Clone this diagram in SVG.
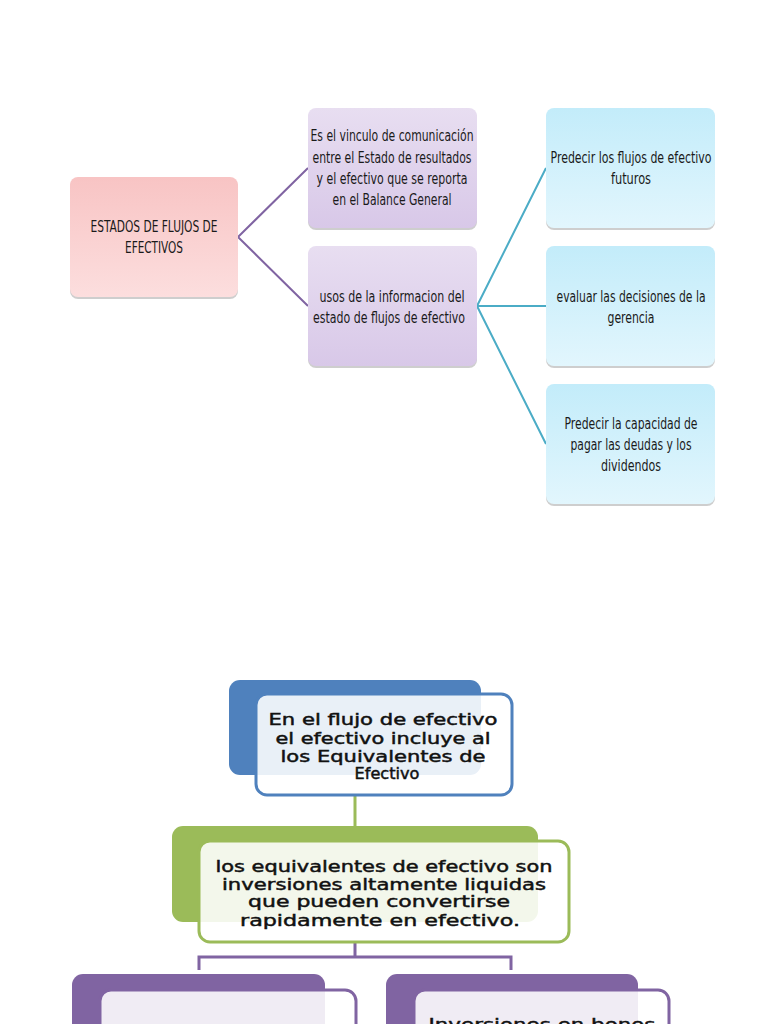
<svg xmlns="http://www.w3.org/2000/svg" width="768" height="1024" viewBox="0 0 768 1024">
<defs>
<linearGradient id="gPink" x1="0" y1="0" x2="0" y2="1"><stop offset="0" stop-color="#f8c4c4"/><stop offset="1" stop-color="#fcdede"/></linearGradient>
<linearGradient id="gPurp" x1="0" y1="0" x2="0" y2="1"><stop offset="0" stop-color="#e8def1"/><stop offset="1" stop-color="#d8c8e8"/></linearGradient>
<linearGradient id="gBlue" x1="0" y1="0" x2="0" y2="1"><stop offset="0" stop-color="#c3ecfa"/><stop offset="1" stop-color="#e2f6fd"/></linearGradient>
<style>
.sh{fill:#a6a6a6;opacity:0.55}
.t1{font-family:"DejaVu Sans Condensed","Liberation Sans",sans-serif;font-stretch:condensed;font-size:16px;fill:#1a1a1a;text-anchor:middle}
.t2{font-family:"DejaVu Sans","Noto Sans",sans-serif;font-size:15.5px;fill:#111;stroke:#111;stroke-width:0.45;text-anchor:middle}
.cp{fill:none;stroke:#8064a2;stroke-width:2}
.cb{fill:none;stroke:#4bacc6;stroke-width:2}
.front{fill:#ffffff;fill-opacity:0.88;stroke-width:3}
</style>
</defs>
<rect width="768" height="1024" fill="#ffffff"/>

<g id="connectors">
<path class="cp" d="M238,237 L308,168 M238,237 L308,306"/>
<path class="cb" d="M477,306 L546,168 M477,306 L546,306 M477,306 L546,444"/>
<path d="M355,795 L355,826" fill="none" stroke="#9bbb59" stroke-width="3"/>
<path d="M355,942 L355,957 M199,970 L199,957 L511,957 L511,970" fill="none" stroke="#8064a2" stroke-width="3"/>
</g>

<g id="n-estados">
<rect class="sh" x="70" y="179" width="168" height="120" rx="8"/>
<rect x="70" y="177" width="168" height="120" rx="8" fill="url(#gPink)"/>
<text class="t1" x="154" y="232" textLength="127" lengthAdjust="spacingAndGlyphs">ESTADOS DE FLUJOS DE</text>
<text class="t1" x="154" y="253" textLength="58" lengthAdjust="spacingAndGlyphs">EFECTIVOS</text>
</g>

<g id="n-vinculo">
<rect class="sh" x="308" y="110" width="169" height="120" rx="8"/>
<rect x="308" y="108" width="169" height="120" rx="8" fill="url(#gPurp)"/>
<text class="t1" x="392" y="141" textLength="163" lengthAdjust="spacingAndGlyphs">Es el vinculo de comunicación</text>
<text class="t1" x="392" y="163" textLength="159" lengthAdjust="spacingAndGlyphs">entre el Estado de resultados</text>
<text class="t1" x="392" y="184" textLength="151" lengthAdjust="spacingAndGlyphs">y el efectivo que se reporta</text>
<text class="t1" x="392" y="205" textLength="119" lengthAdjust="spacingAndGlyphs">en el Balance General</text>
</g>

<g id="n-usos">
<rect class="sh" x="308" y="248" width="169" height="120" rx="8"/>
<rect x="308" y="246" width="169" height="120" rx="8" fill="url(#gPurp)"/>
<text class="t1" x="392" y="302" textLength="145" lengthAdjust="spacingAndGlyphs">usos de la informacion del</text>
<text class="t1" x="389" y="323" textLength="152" lengthAdjust="spacingAndGlyphs">estado de flujos de efectivo</text>
</g>

<g id="n-predecir1">
<rect class="sh" x="546" y="110" width="169" height="120" rx="8"/>
<rect x="546" y="108" width="169" height="120" rx="8" fill="url(#gBlue)"/>
<text class="t1" x="631" y="163" textLength="161" lengthAdjust="spacingAndGlyphs">Predecir los flujos de efectivo</text>
<text class="t1" x="631" y="184" textLength="40" lengthAdjust="spacingAndGlyphs">futuros</text>
</g>

<g id="n-evaluar">
<rect class="sh" x="546" y="248" width="169" height="120" rx="8"/>
<rect x="546" y="246" width="169" height="120" rx="8" fill="url(#gBlue)"/>
<text class="t1" x="631" y="302" textLength="149" lengthAdjust="spacingAndGlyphs">evaluar las decisiones de la</text>
<text class="t1" x="631" y="323" textLength="47" lengthAdjust="spacingAndGlyphs">gerencia</text>
</g>

<g id="n-predecir2">
<rect class="sh" x="546" y="386" width="169" height="120" rx="8"/>
<rect x="546" y="384" width="169" height="120" rx="8" fill="url(#gBlue)"/>
<text class="t1" x="631" y="429" textLength="133" lengthAdjust="spacingAndGlyphs">Predecir la capacidad de</text>
<text class="t1" x="631" y="450" textLength="121" lengthAdjust="spacingAndGlyphs">pagar las deudas y los</text>
<text class="t1" x="631" y="471" textLength="60" lengthAdjust="spacingAndGlyphs">dividendos</text>
</g>

<g id="n-flujo">
<rect x="229" y="680" width="252" height="95" rx="11" fill="#4f81bd"/>
<rect class="front" x="256" y="694" width="256" height="101" rx="11" stroke="#4f81bd"/>
<text class="t2" x="383" y="725" textLength="229" lengthAdjust="spacingAndGlyphs">En el flujo de efectivo</text>
<text class="t2" x="383" y="744" textLength="215" lengthAdjust="spacingAndGlyphs">el efectivo incluye al</text>
<text class="t2" x="383" y="762" textLength="205" lengthAdjust="spacingAndGlyphs">los Equivalentes de</text>
<text class="t2" x="387" y="779" textLength="65" lengthAdjust="spacingAndGlyphs">Efectivo</text>
</g>

<g id="n-equivalentes">
<rect x="172" y="826" width="366" height="96" rx="11" fill="#9bbb59"/>
<rect class="front" x="199" y="841" width="370" height="101" rx="11" stroke="#9bbb59"/>
<text class="t2" x="384" y="872" textLength="337" lengthAdjust="spacingAndGlyphs">los equivalentes de efectivo son</text>
<text class="t2" x="384" y="890" textLength="324" lengthAdjust="spacingAndGlyphs">inversiones altamente liquidas</text>
<text class="t2" x="379" y="907" textLength="262" lengthAdjust="spacingAndGlyphs">que pueden convertirse</text>
<text class="t2" x="380" y="926" textLength="280" lengthAdjust="spacingAndGlyphs">rapidamente en efectivo.</text>
</g>

<g id="n-left">
<rect x="72" y="974" width="253" height="80" rx="11" fill="#8064a2"/>
<rect class="front" x="100" y="990" width="256" height="60" rx="11" stroke="#8064a2"/>
</g>

<g id="n-bonos">
<rect x="386" y="974" width="252" height="80" rx="11" fill="#8064a2"/>
<rect class="front" x="414" y="990" width="255" height="60" rx="11" stroke="#8064a2"/>
<text class="t2" x="542" y="1030" textLength="227" lengthAdjust="spacingAndGlyphs">Inversiones en bonos</text>
</g>
</svg>
